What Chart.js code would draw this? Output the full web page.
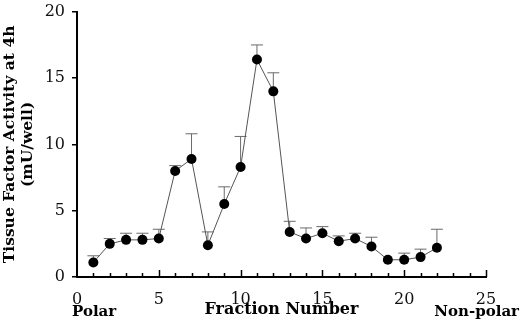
<!DOCTYPE html>
<html>
<head>
<meta charset="utf-8">
<script src="https://cdn.jsdelivr.net/npm/chart.js@4/dist/chart.umd.min.js"></script>
<style>
  html, body { margin: 0; padding: 0; background: #fff; }
  #wrap { width: 520px; height: 321px; }
</style>
</head>
<body>
<div id="wrap"><canvas id="tfChart"></canvas></div>
<script>
const fractions = [1, 2, 3, 4, 5, 6, 7, 8, 9, 10, 11, 12, 13, 14, 15, 16, 17, 18, 19, 20, 21, 22];
const activity = [1.1, 2.5, 2.8, 2.8, 2.9, 8.0, 8.9, 2.4, 5.5, 8.3, 16.4, 14.0, 3.4, 2.9, 3.3, 2.7, 2.9, 2.3, 1.3, 1.3, 1.5, 2.2];
const errorUp = [0.5, 0.4, 0.5, 0.5, 0.7, 0.4, 1.9, 1.0, 1.3, 2.3, 1.1, 1.4, 0.8, 0.8, 0.5, 0.4, 0.4, 0.7, 0, 0.5, 0.6, 1.4];
const xTitle = 'Fraction Number';
const yTitle = ['Tissue Factor Activity at 4h', '(mU/well)'];
const leftLabel = 'Polar';
const rightLabel = 'Non-polar';

const serif = 'DejaVu Serif, Liberation Serif, serif';

// upper error bars, drawn behind the markers
const errorBars = {
  id: 'errorBars',
  beforeDatasetsDraw(chart) {
    const { ctx, scales } = chart;
    ctx.save();
    ctx.strokeStyle = '#6a6a6a';
    ctx.lineWidth = 1;
    fractions.forEach((f, i) => {
      if (!errorUp[i]) return;
      const x = scales.x.getPixelForValue(f);
      const y0 = scales.y.getPixelForValue(activity[i]);
      const y1 = scales.y.getPixelForValue(activity[i] + errorUp[i]);
      ctx.beginPath();
      ctx.moveTo(x, y0);
      ctx.lineTo(x, y1);
      ctx.moveTo(x - 6, y1);
      ctx.lineTo(x + 6, y1);
      ctx.stroke();
    });
    ctx.restore();
  },
};

// inward minor ticks on the x axis + end labels
const axisExtras = {
  id: 'axisExtras',
  afterDraw(chart) {
    const { ctx, scales, chartArea } = chart;
    const xs = scales.x;
    ctx.save();
    ctx.strokeStyle = '#000';
    ctx.lineWidth = 1.5;
    for (let v = 1; v <= 25; v++) {
      const x = Math.round(xs.getPixelForValue(v)) + 0.5;
      const len = v % 5 === 0 ? 7 : 4;
      ctx.beginPath();
      ctx.moveTo(x, chartArea.bottom);
      ctx.lineTo(x, chartArea.bottom - len);
      ctx.stroke();
    }
    ctx.fillStyle = '#000';
    ctx.font = `bold 15px ${serif}`;
    ctx.textBaseline = 'alphabetic';
    ctx.textAlign = 'left';
    ctx.fillText(leftLabel, xs.getPixelForValue(0) - 5, 316);
    ctx.textAlign = 'right';
    ctx.fillText(rightLabel, 519, 316);
    ctx.restore();
  },
};

const ctx = document.getElementById('tfChart').getContext('2d');
new Chart(ctx, {
  type: 'line',
  data: {
    datasets: [
      {
        data: fractions.map((f, i) => ({ x: f, y: activity[i] })),
        borderColor: '#555',
        borderWidth: 1,
        pointRadius: 5,
        pointBackgroundColor: '#000',
        pointBorderColor: '#000',
        pointBorderWidth: 0,
        tension: 0,
      },
    ],
  },
  options: {
    responsive: true,
    maintainAspectRatio: false,
    animation: false,
    layout: { padding: { top: 10, right: 34, left: 0, bottom: 0 } },
    plugins: { legend: { display: false }, tooltip: { enabled: false } },
    scales: {
      x: {
        type: 'linear',
        min: 0,
        max: 25,
        afterFit: (scale) => { scale.height = 44; },
        border: { display: true, color: '#000', width: 2 },
        grid: { display: false, drawTicks: false },
        ticks: { stepSize: 5, padding: 13, color: '#111', font: { family: serif, size: 16 }, maxRotation: 0 },
        title: { display: true, text: xTitle, color: '#000', font: { family: serif, size: 16, weight: 'bold' }, padding: { top: 0, bottom: 2 } },
      },
      y: {
        min: 0,
        max: 20,
        afterFit: (scale) => { scale.width = 77; },
        border: { display: true, color: '#000', width: 2 },
        grid: { drawOnChartArea: false, tickLength: 5, color: '#000', lineWidth: 1.5 },
        ticks: { stepSize: 5, padding: 7, color: '#111', font: { family: serif, size: 16, lineHeight: 0.6 } },
        title: { display: true, text: yTitle, color: '#000', font: { family: serif, size: 15.5, weight: 'bold', lineHeight: 1.15 }, padding: { top: 1, bottom: 0 } },
      },
    },
  },
  plugins: [errorBars, axisExtras],
});
</script>
</body>
</html>
